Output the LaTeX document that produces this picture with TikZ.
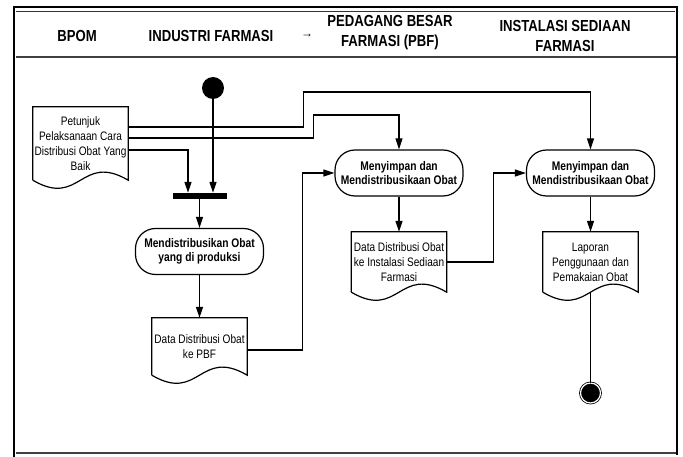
\documentclass[tikz,border=0pt]{standalone}
\usepackage{fontspec}
\setmainfont{Liberation Sans}
\newfontfamily\narrowsf{Liberation Sans}[FakeStretch=0.82]
\usetikzlibrary{arrows.meta,calc}

% outline of a document symbol round a named node (wavy bottom)
\newcommand\docshape[1]{%
  \draw[line width=1.2pt] (#1.south west) -- (#1.north west) -- (#1.north east) -- (#1.south east)
    .. controls ($(#1.south west)!0.5!(#1.south east)+(0,-28)$) and ($(#1.south west)!0.5!(#1.south east)+(0,28)$) .. (#1.south west);}

\begin{document}
\begin{tikzpicture}[x=1pt,y=-1pt,
  >={Triangle[length=11pt,width=7pt]},
  flow/.style={line width=1.2pt},
  activity/.style={draw,line width=1.2pt,rounded corners=20pt,minimum width=128pt,minimum height=46pt,
    inner sep=0pt,align=center,font=\narrowsf\bfseries\fontsize{12.5}{14}\selectfont},
  docnode/.style={minimum width=95pt,inner sep=0pt,align=center,font=\narrowsf\fontsize{12.3}{15}\selectfont},
  heading/.style={align=center,font=\narrowsf\bfseries\fontsize{16}{20}\selectfont},
  joinbar/.style={fill=black,minimum width=54pt,minimum height=6pt,inner sep=0pt},
  startdot/.style={circle,fill=black,minimum size=22pt,inner sep=0pt},
  enddot/.style={circle,fill=black,draw=black,line width=0.8pt,double=white,double distance=1.2pt,
    minimum size=20pt,inner sep=0pt}]
  \useasboundingbox (0,0) rectangle (683,457);

  % draw frame and header lines
  \draw[line width=2pt] (13.5,457) -- (13.5,7) -- (677,7) -- (677,455);
  \draw[line width=1.5pt,black!80] (16,11.5) -- (675,11.5);
  \draw[line width=2.5pt,black!75] (16,57) -- (676,57);
  \draw[line width=2.5pt,black!75] (16,453) -- (676,453);

  % lane headings
  \node[heading] (hbpom) at (77,36) {BPOM};
  \node[heading] (hind) at (211,36) {INDUSTRI FARMASI};
  \node[font=\fontsize{12}{12}\selectfont] (harrow) at (307,36) {→};
  \node[heading] (hpbf) at (390,33) {PEDAGANG BESAR\\FARMASI (PBF)};
  \node[heading] (hisf) at (565,36) {INSTALASI SEDIAAN\\FARMASI};

  % nodes
  \node[startdot] (start) at (213,88) {};
  \node[docnode,minimum height=73pt] (juklak) at (80.5,143.5) {Petunjuk\\Pelaksanaan Cara\\Distribusi Obat Yang\\Baik};
  \docshape{juklak}
  \node[joinbar] (join) at (199.5,196) {};
  \node[activity] (distrib) at (199.5,251.5) {Mendistribusikan Obat\\yang di produksi};
  \node[docnode,minimum height=57pt] (datapbf) at (199.5,346.5) {Data Distribusi Obat\\ke PBF};
  \docshape{datapbf}
  \node[activity] (simpanpbf) at (399,173) {Menyimpan dan\\Mendistribusikaan Obat};
  \node[docnode,minimum height=60pt] (datais) at (399,262) {Data Distribusi Obat\\ke Instalasi Sediaan\\Farmasi};
  \docshape{datais}
  \node[activity] (simpanisf) at (590.5,173) {Menyimpan dan\\Mendistribusikaan Obat};
  \node[docnode,minimum height=60pt] (laporan) at (590.5,262) {Laporan\\Penggunaan dan\\Pemakaian Obat};
  \docshape{laporan}
  \node[enddot] (finish) at (590.5,393) {};

  % connectors
  \draw[flow,->] (start) -- (start |- join.north);
  \draw[flow,->] ([yshift=-6.5pt]juklak.east) -| ([xshift=-11.5pt]join.north);
  \draw[flow,->] ([yshift=16.5pt]juklak.east) -| ++(175,-35) -| (simpanisf.north);
  \draw[flow,->] ([yshift=5.5pt]juklak.east) -| ++(185,-23) -| (simpanpbf.north);
  \draw[flow,->] (join) -- (distrib);
  \draw[flow,->] (distrib) -- (datapbf);
  \draw[flow,->] ([yshift=-3.5pt]datapbf.east) -- ++(55,0) |- (simpanpbf.west);
  \draw[flow,->] (simpanpbf) -- (datais);
  \draw[flow,->] (datais.east) -- ++(47,0) |- (simpanisf.west);
  \draw[flow,->] (simpanisf) -- (laporan);
  \draw[flow] (laporan.south) -- (finish);
\end{tikzpicture}
\end{document}
